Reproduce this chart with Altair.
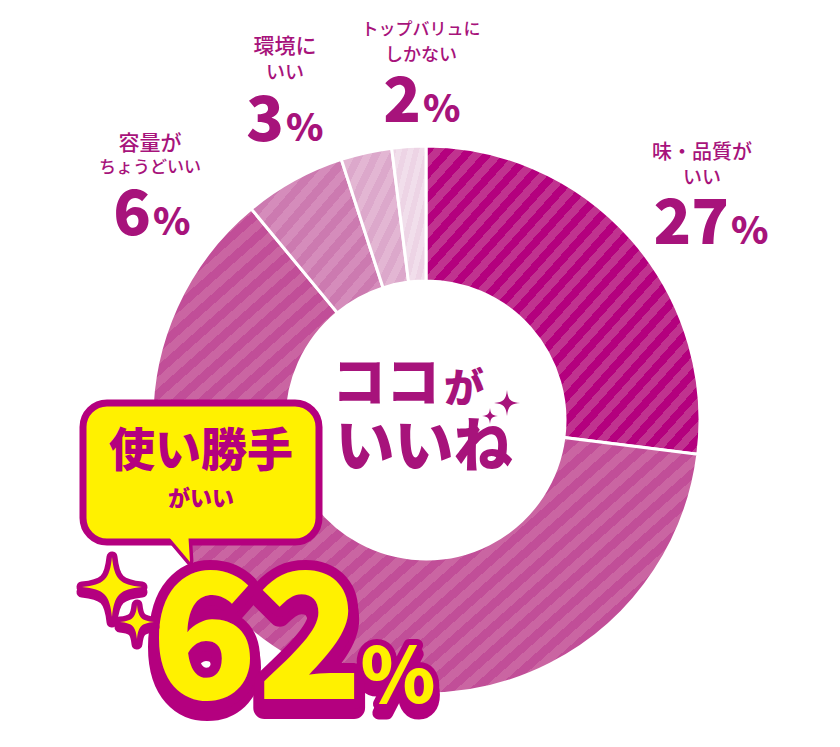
import altair as alt
import pandas as pd

# ---------------- data ----------------
categories = ["味・品質がいい", "使い勝手がいい", "容量がちょうどいい", "環境にいい", "トップバリュにしかない"]
values = [27, 62, 6, 3, 2]
label_top = ["味・品質が", "使い勝手", "容量が", "環境に", "トップバリュに"]
label_bottom = ["いい", "がいい", "ちょうどいい", "いい", "しかない"]
center_line1 = ["ココ", "が"]
center_line2 = "いいね"

# ---------------- style ----------------
base_colors = ["#B4007E", "#C14E98", "#CC7AB0", "#DCA8CB", "#EDD4E5"]
stripe_colors = ["#C0338F", "#CA65A2", "#D58CBB", "#E3B6D3", "#F1DEEB"]
stripe_counts = [26, 42, 12, 8, 6]
INK = "#A7137B"
YELLOW = "#FFF100"
OUTLINE = "#B4007F"
FONT = "Noto Sans CJK JP"
CX, CY = 426, 420
R_OUT, R_IN = 274, 139

# label layout (x center, line1 y, line2 y, pct x split, pct baseline, label font sizes)
label_layout = {
    0: dict(x=702, y1=153, y2=178, px=729, py=244, f1=20, f2=19),
    2: dict(x=150, y1=144, y2=168, px=151, py=235, f1=21, f2=17),
    3: dict(x=285, y1=47, y2=73, px=284, py=141, f1=21, f2=19),
    4: dict(x=421, y1=30, y2=56, px=421, py=122, f1=17, f2=18),
}

STAR = ("M0,-1 C0.08,-0.25 0.25,-0.08 1,0 C0.25,0.08 0.08,0.25 0,1 "
        "C-0.08,0.25 -0.25,0.08 -1,0 C-0.25,-0.08 -0.08,-0.25 0,-1 Z")
TAIL = "M-0.56,-0.72 L0.44,-0.72 L0.52,0.56 Z"


def stripes(c1, c2, n):
    stops = []
    for k in range(n):
        a, m, b = k / n, (k + 0.5) / n, (k + 1) / n
        stops += [{"offset": a, "color": c1}, {"offset": m, "color": c1},
                  {"offset": m, "color": c2}, {"offset": b, "color": c2}]
    return {"gradient": "linear", "x1": 0, "y1": 0, "x2": 1, "y2": 1, "stops": stops}


df = pd.DataFrame({"category": categories, "value": values, "order": list(range(len(values)))})
base = (
    alt.Chart(df)
    .transform_window(cum="sum(value)", sort=[alt.SortField("order")])
    .transform_calculate(start="datum.cum - datum.value")
)
theta_scale = alt.Scale(domain=[0, 100], range=[0, 6.283185307179586])

layers = []
for i, cat in enumerate(categories):
    layers.append(
        base.transform_filter(alt.datum.category == cat)
        .mark_arc(innerRadius=R_IN, outerRadius=R_OUT, stroke="white", strokeWidth=3,
                  fill=stripes(base_colors[i], stripe_colors[i], stripe_counts[i]))
        .encode(theta=alt.Theta("start:Q", scale=theta_scale), theta2="cum:Q",
                x=alt.value(CX), y=alt.value(CY))
    )


def text_layer(txt, x, y, size, color=INK, weight="bold", align="center", baseline="middle", **kw):
    return (
        alt.Chart(pd.DataFrame({"t": [txt]}))
        .mark_text(font=FONT, fontSize=size, fontWeight=weight, align=align, baseline=baseline,
                   color=color, **kw)
        .encode(text="t:N", x=alt.value(x), y=alt.value(y))
    )


def point_layer(shape, x, y, size, fill, stroke=None, sw=0):
    kw = dict(shape=shape, size=size, filled=True, fill=fill, opacity=1, fillOpacity=1)
    if stroke:
        kw.update(stroke=stroke, strokeWidth=sw, strokeJoin="round", strokeOpacity=1)
    else:
        kw.update(strokeWidth=0)
    return (
        alt.Chart(pd.DataFrame({"k": [0]}))
        .mark_point(**kw)
        .encode(x=alt.value(x), y=alt.value(y))
    )


# small slice labels
for i, lay in label_layout.items():
    layers.append(text_layer(label_top[i], lay["x"], lay["y1"], lay["f1"], weight=500))
    layers.append(text_layer(label_bottom[i], lay["x"], lay["y2"], lay["f2"], weight=500))
    layers.append(text_layer(str(values[i]), lay["px"], lay["py"], 62, weight=900,
                             align="right", baseline="alphabetic"))
    layers.append(text_layer("%", lay["px"] + 2, lay["py"], 38, weight=900,
                             align="left", baseline="alphabetic"))

# center text
layers.append(text_layer(center_line1[0], 440, 386, 54, weight=900, align="right"))
layers.append(text_layer(center_line1[1], 444, 390, 40, weight=900, align="left"))
layers.append(text_layer(center_line2, 424, 449, 59, weight=900))
layers.append(point_layer(STAR, 507, 403, 26 ** 2, INK))
layers.append(point_layer(STAR, 490, 416, 16 ** 2, INK))

# speech bubble
layers.append(point_layer(TAIL, 177, 548, 50 ** 2, YELLOW, OUTLINE, 7))
layers.append(
    alt.Chart(pd.DataFrame({"k": [0]}))
    .mark_rect(cornerRadius=24, fill=YELLOW, stroke=OUTLINE, strokeWidth=7)
    .encode(x=alt.value(83), x2=alt.value(319), y=alt.value(403), y2=alt.value(542))
)
layers.append(point_layer(TAIL, 177, 548, 50 ** 2, YELLOW))
layers.append(text_layer(label_top[1], 201, 452, 46, color=OUTLINE, weight=900))
layers.append(text_layer(label_bottom[1], 201, 499, 22, color=OUTLINE, weight=900))

# big 62%
big = str(values[1])
for dy, sw in [(9, 22), (0, 20)]:
    layers.append(text_layer(big, 257, 699 + dy, 174, color=OUTLINE, weight=900,
                             baseline="alphabetic", stroke=OUTLINE, strokeWidth=sw,
                             strokeJoin="round"))
    layers.append(text_layer("%", 398, 703 + dy, 76, color=OUTLINE, weight=900,
                             baseline="alphabetic", stroke=OUTLINE, strokeWidth=sw * 0.6,
                             strokeJoin="round"))
layers.append(text_layer(big, 257, 699, 174, color=YELLOW, weight=900, baseline="alphabetic"))
layers.append(text_layer("%", 398, 703, 76, color=YELLOW, weight=900, baseline="alphabetic"))

# yellow sparkles
for (sx, sy, half) in [(112, 587, 30), (137, 622, 17)]:
    layers.append(point_layer(STAR, sx, sy + 5, (2 * half) ** 2, OUTLINE, OUTLINE, 11))
    layers.append(point_layer(STAR, sx, sy, (2 * half) ** 2, OUTLINE, OUTLINE, 11))
for (sx, sy, half) in [(112, 587, 30), (137, 622, 17)]:
    layers.append(point_layer(STAR, sx, sy, (2 * half) ** 2, YELLOW))

chart = (
    alt.layer(*layers)
    .properties(width=840, height=747, padding=0, autosize=alt.AutoSizeParams(type="none"),
                background="white")
    .configure_view(stroke=None)
)

chart.save("out.html", embed_options={"renderer": "svg", "actions": False})
